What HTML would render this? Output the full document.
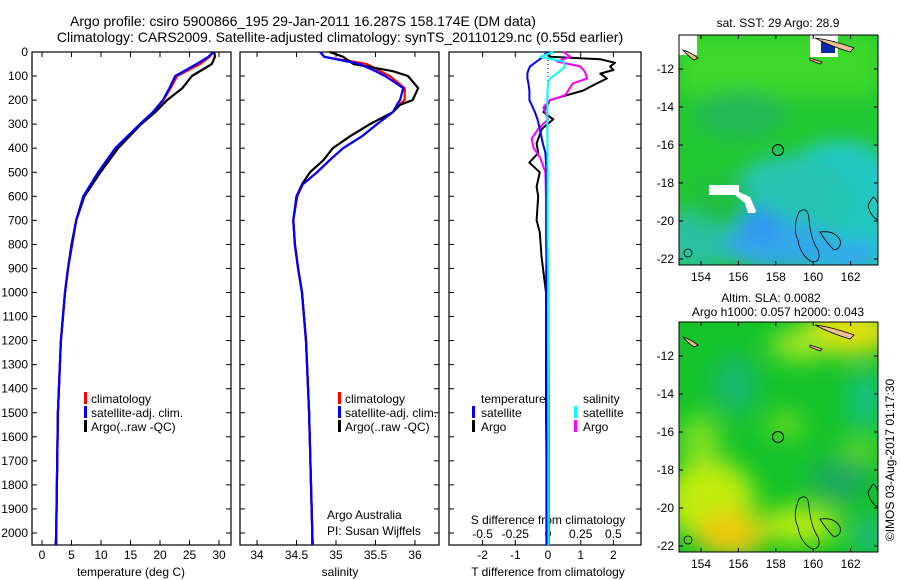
<!DOCTYPE html>
<html><head><meta charset="utf-8">
<style>
html,body{margin:0;padding:0;background:#fff;}
svg{display:block;font-family:"Liberation Sans",sans-serif;}
</style></head>
<body>
<svg id="fig" width="900" height="580" viewBox="0 0 900 580" xmlns="http://www.w3.org/2000/svg">
<defs>
<filter id="blur1" x="-20%" y="-20%" width="140%" height="140%"><feGaussianBlur stdDeviation="9"/></filter>
<filter id="blur2" x="-20%" y="-20%" width="140%" height="140%"><feGaussianBlur stdDeviation="12"/></filter>
<clipPath id="clipm1"><rect x="679" y="35" width="199" height="230"/></clipPath>
<clipPath id="clipm2"><rect x="679" y="322" width="199" height="230"/></clipPath>
</defs>
<text x="303" y="26" font-size="14" text-anchor="middle">Argo profile: csiro 5900866_195 29-Jan-2011 16.287S 158.174E (DM data)</text>
<text x="340" y="42" font-size="14" text-anchor="middle">Climatology: CARS2009. Satellite-adjusted climatology: synTS_20110129.nc (0.55d earlier)</text>

<!-- map 1 SST -->
<g clip-path="url(#clipm1)">
<rect x="679" y="35" width="199" height="230" fill="#22c832"/>
<g filter="url(#blur1)">
<rect x="679" y="35" width="199" height="60" fill="#3ed82a"/>
<ellipse cx="840" cy="210" rx="70" ry="70" fill="#22c8c0"/>
<ellipse cx="790" cy="200" rx="60" ry="45" fill="#28c4b0"/>
<ellipse cx="700" cy="240" rx="40" ry="30" fill="#2cc0a0"/>
<ellipse cx="780" cy="245" rx="55" ry="25" fill="#30a8e8"/>
<ellipse cx="760" cy="225" rx="20" ry="18" fill="#3096f0"/>
<ellipse cx="850" cy="255" rx="30" ry="15" fill="#30a8f0"/>
<ellipse cx="720" cy="200" rx="30" ry="25" fill="#20c040"/>
<ellipse cx="740" cy="115" rx="45" ry="25" fill="#22bb55"/>
</g>
<rect x="810" y="35" width="28" height="22" fill="#fff"/>
<rect x="821" y="41" width="14" height="12" fill="#0a2aa8"/>
<rect x="679" y="35" width="18" height="20" fill="#fff"/>
<polygon points="709,185 739,185 739,192 750,197 756,211 755,213 748,213 745,203 735,195 709,195" fill="#fff"/>
<path d="M815 38 Q832 40 854 48 L850 52 Q830 46 815 38Z" fill="#f0c090" stroke="#000" stroke-width="0.8"/>
<path d="M683 50 Q690 52 698 58 L694 60 Q688 56 683 50Z" fill="#f0c090" stroke="#000" stroke-width="0.8"/>
<path d="M810 58 L822 62 L820 64 L810 60Z" fill="#f0c090" stroke="#000" stroke-width="0.8"/>
<path d="M799 212 Q808 205 809 220 Q811 240 818 250 Q822 262 812 262 Q800 255 798 240 Q792 228 799 212Z" fill="none" stroke="#000" stroke-width="0.8"/>
<path d="M820 232 Q835 230 840 240 Q842 248 834 250 Q826 242 820 232Z" fill="none" stroke="#000" stroke-width="0.8"/>
<path d="M873 197 Q880 200 878 220 Q870 216 868 205Z" fill="none" stroke="#000" stroke-width="0.8"/>
<circle cx="688" cy="253" r="4" fill="none" stroke="#000" stroke-width="0.8"/>
<circle cx="778" cy="150" r="5.5" fill="none" stroke="#000" stroke-width="1"/>
</g>
<rect x="679" y="35" width="199" height="230" fill="none" stroke="#000"/>
<text x="778" y="27" font-size="12" text-anchor="middle">sat. SST: 29 Argo: 28.9</text>

<!-- map 2 SLA -->
<g clip-path="url(#clipm2)">
<rect x="679" y="322" width="199" height="230" fill="#14c42a"/>
<g filter="url(#blur2)">
<ellipse cx="850" cy="330" rx="45" ry="25" fill="#e0e010"/>
<ellipse cx="800" cy="345" rx="30" ry="15" fill="#a8e820"/>
<ellipse cx="710" cy="500" rx="45" ry="40" fill="#c0ec10"/>
<ellipse cx="730" cy="535" rx="35" ry="22" fill="#f0c810"/>
<ellipse cx="800" cy="525" rx="40" ry="18" fill="#c0ec10"/>
<ellipse cx="700" cy="440" rx="20" ry="25" fill="#80e020"/>
<ellipse cx="785" cy="425" rx="20" ry="12" fill="#70dc20"/>
<ellipse cx="735" cy="385" rx="22" ry="30" fill="#14b870"/>
<ellipse cx="865" cy="400" rx="18" ry="28" fill="#18c088"/>
<ellipse cx="840" cy="480" rx="30" ry="22" fill="#1aa860"/>
<ellipse cx="870" cy="535" rx="15" ry="15" fill="#20b8a0"/>
<ellipse cx="860" cy="450" rx="20" ry="12" fill="#60d820"/>
</g>
<path d="M815 325 Q832 327 854 335 L850 339 Q830 333 815 325Z" fill="#f0c090" stroke="#000" stroke-width="0.8"/>
<path d="M683 337 Q690 339 698 345 L694 347 Q688 343 683 337Z" fill="#f0c090" stroke="#000" stroke-width="0.8"/>
<path d="M810 345 L822 349 L820 351 L810 347Z" fill="#f0c090" stroke="#000" stroke-width="0.8"/>
<path d="M799 499 Q808 492 809 507 Q811 527 818 537 Q822 549 812 549 Q800 542 798 527 Q792 515 799 499Z" fill="none" stroke="#000" stroke-width="0.8"/>
<path d="M820 519 Q835 517 840 527 Q842 535 834 537 Q826 529 820 519Z" fill="none" stroke="#000" stroke-width="0.8"/>
<path d="M873 484 Q880 487 878 507 Q870 503 868 492Z" fill="none" stroke="#000" stroke-width="0.8"/>
<circle cx="688" cy="540" r="4" fill="none" stroke="#000" stroke-width="0.8"/>
<circle cx="778" cy="437" r="5.5" fill="none" stroke="#000" stroke-width="1"/>
</g>
<rect x="679" y="322" width="199" height="230" fill="none" stroke="#000"/>
<text x="771" y="302" font-size="12" text-anchor="middle">Altim. SLA: 0.0082</text>
<text x="778" y="316" font-size="12" text-anchor="middle">Argo h1000: 0.057 h2000: 0.043</text>
<text transform="translate(894,460) rotate(-90)" font-size="12" text-anchor="middle">©IMOS 03-Aug-2017 01:17:30</text>
<g id="dyn"></g>
</svg>
<script>
// ---- data ----
var depthT = [0,20,50,100,150,200,250,300,400,500,600,700,800,900,1000,1200,1500,2000,2050];
var tempClim = [29,28.4,26.8,22.9,21.8,20.6,18.9,16.8,12.5,9.6,7.0,5.8,5.1,4.4,3.9,3.2,2.7,2.4,2.3];
var tempSat  = [29,28.2,26.2,22.6,21.6,20.5,18.8,16.6,12.4,9.5,7.0,5.8,5.1,4.4,3.9,3.2,2.7,2.4,2.3];
var tempArgo = [29.2,29.3,28.8,25.4,23.8,21.2,19.2,16.8,12.9,9.9,7.2,5.8,5.0,4.4,3.9,3.2,2.7,2.4,2.4];
var depthS = [0,20,50,80,100,150,200,220,250,300,350,400,450,500,550,600,700,800,900,1000,1200,1500,2000,2050];
var salClim = [34.8,34.85,35.39,35.56,35.68,35.87,35.87,35.8,35.72,35.52,35.33,35.09,34.92,34.76,34.58,34.51,34.46,34.48,34.52,34.57,34.62,34.66,34.7,34.71];
var salSat  = [34.8,34.85,35.3,35.5,35.62,35.85,35.81,35.77,35.72,35.52,35.33,35.09,34.92,34.76,34.58,34.5,34.46,34.48,34.52,34.57,34.62,34.66,34.7,34.7];
var salArgo = [34.92,35.09,35.22,35.72,35.91,36.04,35.97,35.81,35.72,35.43,35.18,34.96,34.84,34.67,34.57,34.5,34.46,34.48,34.52,34.57,34.62,34.66,34.7,34.7];
var depthD = [0,20,30,45,60,75,90,110,130,160,200,250,280,320,380,420,460,500,560,600,700,750,850,1000,1500,2000,2050];
var dTsat  = [-0.04,-0.15,-0.25,-0.4,-0.55,-0.6,-0.63,-0.63,-0.6,-0.57,-0.57,-0.4,-0.32,-0.25,-0.16,-0.08,-0.06,-0.05,-0.05,-0.05,-0.05,-0.05,-0.05,-0.06,-0.05,-0.05,-0.05];
var dTargo = [0.01,0.06,1.6,2.05,1.9,2.0,1.6,1.8,1.5,1.08,0.06,-0.14,0.16,-0.19,-0.35,-0.3,-0.57,-0.25,-0.35,-0.3,-0.35,-0.25,-0.2,-0.06,-0.06,-0.02,-0.02];
var depthDS = [0,20,40,60,80,110,130,180,200,230,280,320,360,400,440,500,600,800,1000,1500,2000,2050];
var dSsat  = [0.04,-0.06,0.12,0.13,0.09,0.015,0.0,-0.005,-0.005,-0.005,-0.005,-0.005,-0.005,-0.004,-0.004,-0.003,-0.003,-0.003,0.002,0.003,0.003,0.003];
var dSargo = [0.12,0.17,0.07,0.245,0.28,0.3,0.19,0.13,0.015,-0.035,0.0,-0.074,-0.125,-0.11,-0.06,-0.02,-0.015,-0.015,0.002,0.008,0.008,0.008];
var depthTicks = [0,100,200,300,400,500,600,700,800,900,1000,1100,1200,1300,1400,1500,1600,1700,1800,1900,2000];
var tTicks = [0,5,10,15,20,25,30];
var sTicks = [34,34.5,35,35.5,36];
var dTTicks = [-2,-1,0,1,2];
var dSTicks = [-0.5,-0.25,0,0.25,0.5];
var lonTicks = [154,156,158,160,162];
var latTicks = [-12,-14,-16,-18,-20,-22];

var NS = "http://www.w3.org/2000/svg";
var dyn = document.getElementById('dyn');
function mk(tag, attrs, parent){var e=document.createElementNS(NS,tag);for(var k in attrs)e.setAttribute(k,attrs[k]);(parent||dyn).appendChild(e);return e;}
function yD(d){return 52 + d*0.2405;}
var xT = function(v){return 42 + v*5.9;};
var xS = function(v){return 257 + (v-34)*79;};
var xDT = function(v){return 548 + v*32.7;};
var xDS = function(v){return 548 + v*130.8;};
var TOP=52, BOT=545;

function frame(x0,x1,name){
  var r = mk('rect',{x:x0,y:TOP,width:x1-x0,height:BOT-TOP,fill:'none',stroke:'#000','stroke-width':1.2});
  
  
}
function line(xs, ds, fx, color, name, w){
  var pts = xs.map(function(v,i){return fx(v).toFixed(1)+','+yD(ds[i]).toFixed(1);}).join(' ');
  var p = mk('polyline',{points:pts,fill:'none',stroke:color,'stroke-width':w||2.2,'stroke-linejoin':'round'});
  
  
}
function xticks(ticks, fx, y, labelFn, prefix){
  ticks.forEach(function(t){
    var x = fx(t);
    mk('line',{x1:x,y1:BOT,x2:x,y2:BOT-5,stroke:'#000'});
    mk('line',{x1:x,y1:TOP,x2:x,y2:TOP+5,stroke:'#000'});
    var tx = mk('text',{x:x,y:y,'font-size':12,'text-anchor':'middle'});
    tx.textContent = labelFn ? labelFn(t) : String(t);
    
    
  });
}
function yticks(x0,x1){
  depthTicks.forEach(function(d){
    var y=yD(d);
    mk('line',{x1:x0,y1:y,x2:x0+5,y2:y,stroke:'#000'});
    mk('line',{x1:x1,y1:y,x2:x1-5,y2:y,stroke:'#000'});
  });
}
function text(x,y,s,name,size,anchor){
  var t = mk('text',{x:x,y:y,'font-size':size||12,'text-anchor':anchor||'start'});
  t.textContent = s;
  
  
  return t;
}
function legbar(x,y,color,name){
  var r = mk('rect',{x:x,y:y-10,width:3,height:12,fill:color});
  
  
}

// Plot 1 temperature
frame(32,231,'temperature-plot-frame');
yticks(32,231);
depthTicks.forEach(function(d){
  var t = mk('text',{x:28,y:yD(d)+4,'font-size':12,'text-anchor':'end'});
  t.textContent = d;
  
  
});
xticks(tTicks, xT, 559, null, 'temperature');
text(131,576,'temperature (deg C)','temperature-axis-title',12,'middle');
line(tempClim, depthT, xT, '#ff0000', 'temperature-climatology-line');
line(tempArgo, depthT, xT, '#000000', 'temperature-argo-line');
line(tempSat, depthT, xT, '#0000ff', 'temperature-satellite-line');
legbar(84,402,'#ff0000','legend-climatology-marker'); text(91,403,'climatology','legend-climatology');
legbar(84,416,'#0000ff','legend-satellite-marker'); text(91,417,'satellite-adj. clim.','legend-satellite-adj');
legbar(84,430,'#000000','legend-argo-marker'); text(91,431,'Argo(..raw -QC)','legend-argo');

// Plot 2 salinity
frame(240,439,'salinity-plot-frame');
yticks(240,439);
xticks(sTicks, xS, 559, null, 'salinity');
text(340,576,'salinity','salinity-axis-title',12,'middle');
line(salClim, depthS, xS, '#ff0000', 'salinity-climatology-line');
line(salArgo, depthS, xS, '#000000', 'salinity-argo-line');
line(salSat, depthS, xS, '#0000ff', 'salinity-satellite-line');
legbar(338,402,'#ff0000','legend2-climatology-marker'); text(345,403,'climatology','legend2-climatology');
legbar(338,416,'#0000ff','legend2-satellite-marker'); text(345,417,'satellite-adj. clim.','legend2-satellite-adj');
legbar(338,430,'#000000','legend2-argo-marker'); text(345,431,'Argo(..raw -QC)','legend2-argo');
text(327,519,'Argo Australia','credit-line-1');
text(327,535,'PI: Susan Wijffels','credit-line-2');

// Plot 3 differences
frame(449,641,'difference-plot-frame');
yticks(449,641);
xticks(dTTicks, xDT, 559, null, 'tdiff');
dSTicks.forEach(function(t){
  var tx = text(xDS(t), 538, String(t), 'sdiff-tick-label', 12, 'middle');
});
text(548,524,'S difference from climatology','sdiff-axis-title',12,'middle');
text(548,576,'T difference from climatology','tdiff-axis-title',12,'middle');
for (var yy=yD(0); yy<yD(650); yy+=4) mk('rect',{x:547.5,y:yy,width:1,height:1,fill:'#000'});
line(dTargo, depthD, xDT, '#000000', 'tdiff-argo-line', 2);
line(dSargo, depthDS, xDS, '#ff00ff', 'sdiff-argo-line', 2);
line(dTsat, depthD, xDT, '#0000ff', 'tdiff-satellite-line', 2);
line(dSsat, depthDS, xDS, '#00ffff', 'sdiff-satellite-line', 2);
text(481,403,'temperature','legend3-temperature-heading');
legbar(472,416,'#0000ff','legend3-tsat-marker'); text(481,417,'satellite','legend3-tsat');
legbar(472,430,'#000000','legend3-targo-marker'); text(481,431,'Argo','legend3-targo');
text(583,403,'salinity','legend3-salinity-heading');
legbar(574,416,'#00ffff','legend3-ssat-marker'); text(583,417,'satellite','legend3-ssat');
legbar(574,430,'#ff00ff','legend3-sargo-marker'); text(583,431,'Argo','legend3-sargo');

// map axes
function mapAxes(top, bot, lat12, labY){
  lonTicks.forEach(function(l){
    var x = 701 + (l-154)*18.7;
    mk('line',{x1:x,y1:top,x2:x,y2:top+4,stroke:'#000'});
    mk('line',{x1:x,y1:bot,x2:x,y2:bot-4,stroke:'#000'});
    text(x,labY,String(l),'lon-tick-label',12,'middle');
  });
  latTicks.forEach(function(l){
    var y = lat12 + (-12-l)*19;
    mk('line',{x1:679,y1:y,x2:683,y2:y,stroke:'#000'});
    mk('line',{x1:878,y1:y,x2:874,y2:y,stroke:'#000'});
    text(674,y+4,String(l),'lat-tick-label',12,'end');
  });
}
mapAxes(35,265,69,281);
mapAxes(322,552,356,568);
</script>
</body></html>
